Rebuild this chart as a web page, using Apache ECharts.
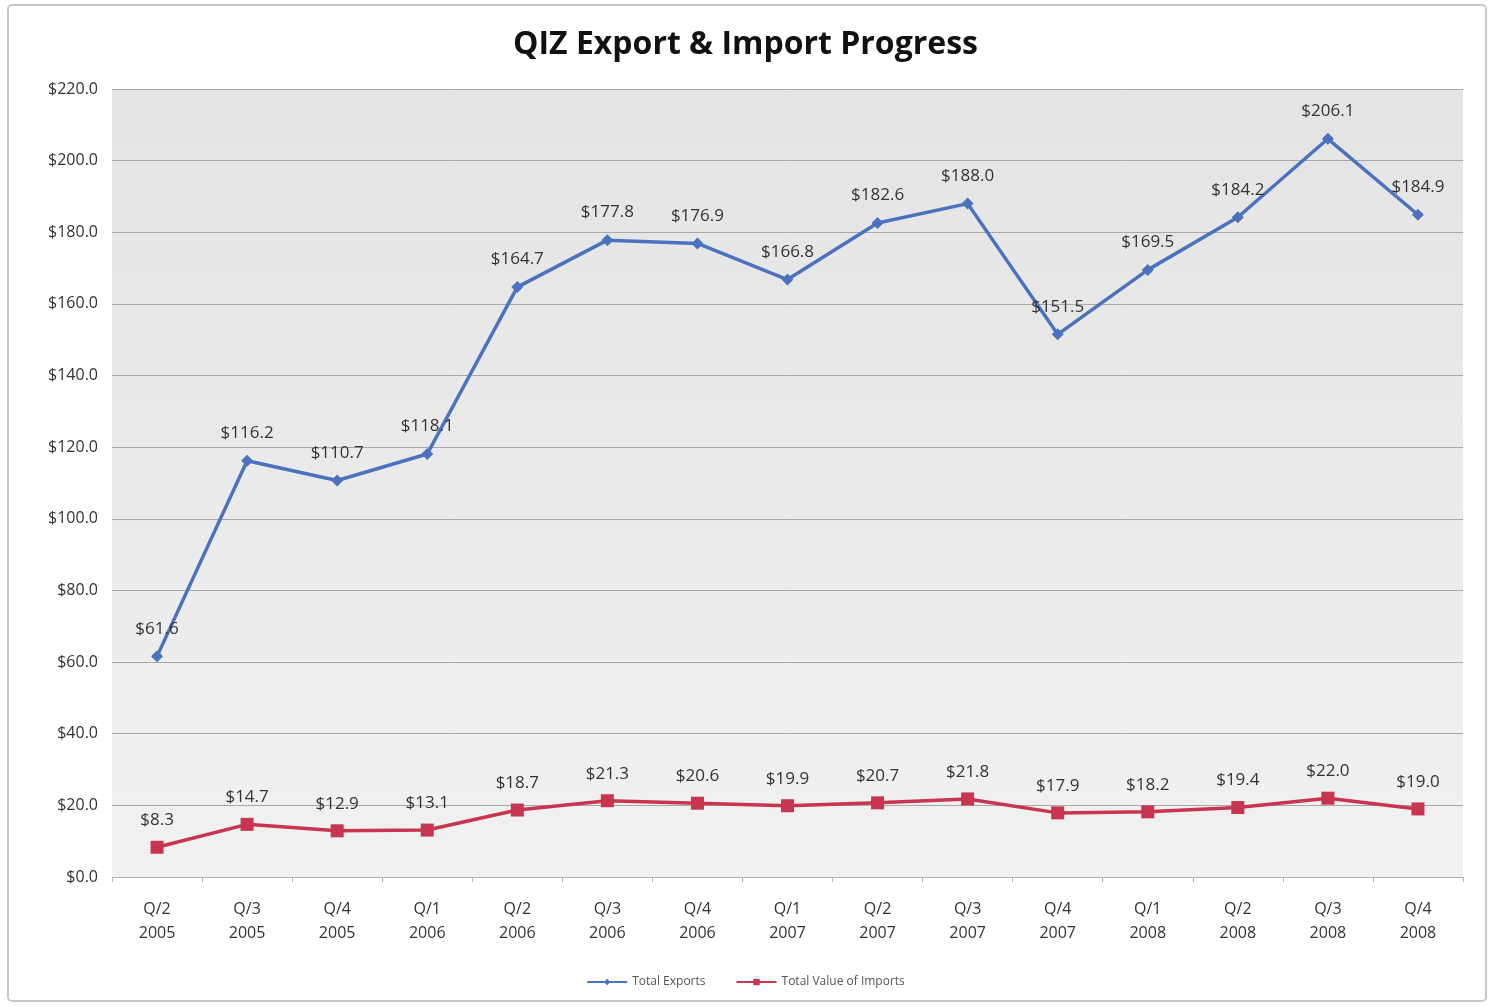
<!DOCTYPE html>
<html>
<head>
<meta charset="utf-8">
<script src="https://cdn.jsdelivr.net/npm/echarts@6/dist/echarts.min.js"></script>
<style>
  html, body { margin: 0; padding: 0; background: #fff; }
  #main { width: 1491px; height: 1007px; }
</style>
</head>
<body>
<div id="main"></div>
<script>
var quarters = ['Q/2\n2005', 'Q/3\n2005', 'Q/4\n2005', 'Q/1\n2006', 'Q/2\n2006', 'Q/3\n2006', 'Q/4\n2006',
    'Q/1\n2007', 'Q/2\n2007', 'Q/3\n2007', 'Q/4\n2007', 'Q/1\n2008', 'Q/2\n2008', 'Q/3\n2008', 'Q/4\n2008'];
var totalExports = [61.6, 116.2, 110.7, 118.1, 164.7, 177.8, 176.9, 166.8, 182.6, 188.0, 151.5, 169.5, 184.2, 206.1, 184.9];
var totalImports = [8.3, 14.7, 12.9, 13.1, 18.7, 21.3, 20.6, 19.9, 20.7, 21.8, 17.9, 18.2, 19.4, 22.0, 19.0];

function money(p) {
    return '$' + Number(p.value).toFixed(1);
}

var myChart = echarts.init(document.getElementById('main'));

var option = {
    backgroundColor: '#ffffff',
    animation: false,
    textStyle: { fontFamily: 'Open Sans, DejaVu Sans, sans-serif' },
    title: {
        text: 'QIZ Export & Import Progress',
        left: 'center',
        top: 24,
        textStyle: { fontSize: 32, fontWeight: 'bold', color: '#111', fontFamily: 'Open Sans, sans-serif' }
    },
    graphic: [{
        type: 'rect',
        shape: { x: 8, y: 5, width: 1478, height: 996, r: 4 },
        style: { fill: 'none', stroke: '#c8c8c8', lineWidth: 2 },
        silent: true
    }],
    legend: {
        bottom: 14,
        left: 'center',
        itemWidth: 40,
        itemHeight: 8,
        itemGap: 30,
        textStyle: { fontSize: 12, color: '#555' },
        data: ['Total Exports', 'Total Value of Imports']
    },
    grid: {
        left: 112,
        right: 28,
        top: 89,
        bottom: 130,
        show: true,
        borderWidth: 0,
        backgroundColor: new echarts.graphic.LinearGradient(0, 0, 0, 1, [
            { offset: 0, color: '#e4e4e4' },
            { offset: 1, color: '#f1f1f1' }
        ])
    },
    xAxis: {
        type: 'category',
        data: quarters,
        boundaryGap: true,
        axisLine: { lineStyle: { color: '#b0b0b0' } },
        axisTick: { show: true, length: 5, lineStyle: { color: '#b0b0b0' } },
        axisLabel: { fontSize: 16, color: '#333', lineHeight: 24, margin: 20 }
    },
    yAxis: {
        type: 'value',
        min: 0,
        max: 220,
        interval: 20,
        axisLine: { show: false },
        axisTick: { show: false },
        axisLabel: {
            fontSize: 16,
            color: '#333',
            margin: 14,
            formatter: function (v) { return '$' + v.toFixed(1); }
        },
        splitLine: { show: true, lineStyle: { color: '#a8a8a8', width: 1 } }
    },
    series: [{
        name: 'Total Exports',
        type: 'line',
        data: totalExports,
        symbol: 'diamond',
        symbolSize: 12,
        color: '#4a72be',
        lineStyle: { width: 3.5, color: '#4a72be' },
        itemStyle: { color: '#4a72be' },
        label: {
            show: true,
            position: 'top',
            distance: 13,
            fontSize: 17,
            color: '#333',
            formatter: money
        }
    }, {
        name: 'Total Value of Imports',
        type: 'line',
        data: totalImports,
        symbol: 'rect',
        symbolSize: 13,
        color: '#c8354e',
        lineStyle: { width: 3.5, color: '#c8354e' },
        itemStyle: { color: '#c8354e' },
        label: {
            show: true,
            position: 'top',
            distance: 12,
            fontSize: 17,
            color: '#333',
            formatter: money
        }
    }]
};

myChart.setOption(option);
</script>
</body>
</html>
